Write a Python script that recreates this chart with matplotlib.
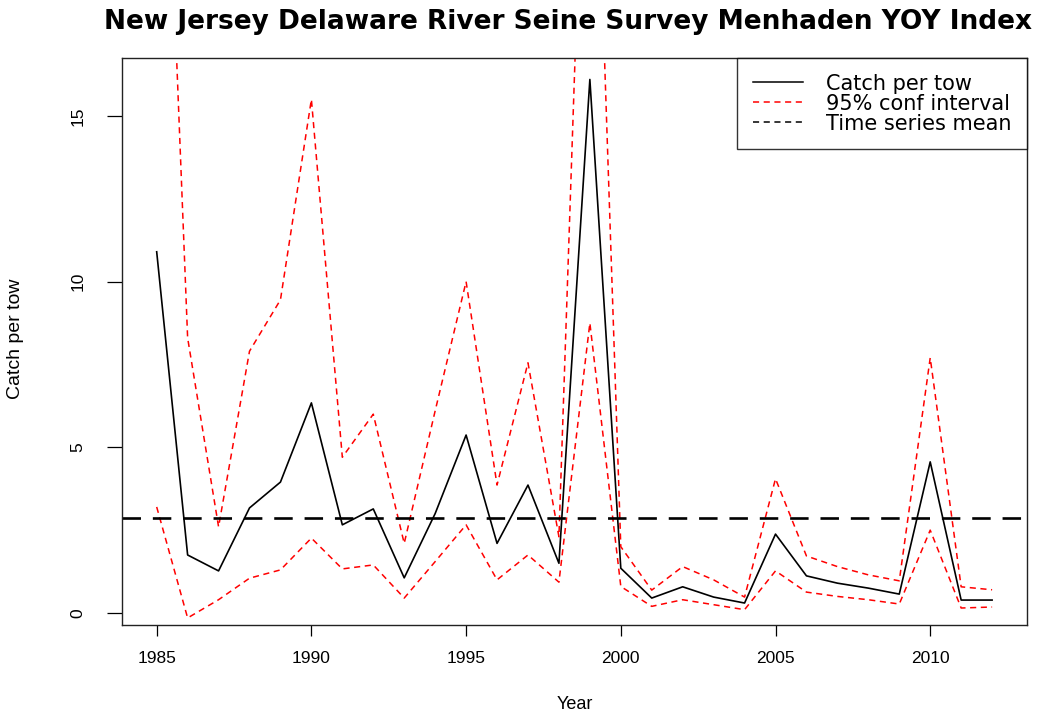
import numpy as np
import matplotlib
matplotlib.use("Agg")
from matplotlib import pyplot as plt
from matplotlib.lines import Line2D

# NJ Delaware River seine survey, menhaden YOY index
years = list(range(1985, 2013))
catch = [10.9, 1.75, 1.27, 3.17, 3.95, 6.34, 2.66, 3.14, 1.06, 3.0,
         5.37, 2.1, 3.86, 1.5, 16.1, 1.35, 0.45, 0.79, 0.48, 0.3,
         2.38, 1.12, 0.9, 0.75, 0.57, 4.56, 0.39, 0.39]
upper = [32.0, 8.3, 2.6, 7.9, 9.45, 15.5, 4.7, 6.0, 2.1, 6.1,
         10.0, 3.86, 7.55, 2.3, 30.0, 2.0, 0.69, 1.4, 1.0, 0.48,
         4.05, 1.72, 1.4, 1.15, 0.97, 7.7, 0.79, 0.7]
lower = [3.2, -0.15, 0.4, 1.05, 1.3, 2.26, 1.33, 1.45, 0.45, 1.55,
         2.66, 1.0, 1.75, 0.93, 8.75, 0.8, 0.2, 0.4, 0.25, 0.1,
         1.27, 0.63, 0.5, 0.4, 0.27, 2.5, 0.15, 0.18]
ts_mean = 2.87

plt.rcParams['font.family'] = ['Liberation Sans Narrow', 'Liberation Sans', 'DejaVu Sans']

fig = plt.figure(figsize=(10.52, 7.15), dpi=100)
ax = fig.add_axes([0.116, 0.126, 0.86, 0.793])

dash = (0, (4, 3))
ax.plot(years, catch, color='black', lw=1.2)
ax.plot(years, upper, color='red', lw=1.1, ls=dash)
ax.plot(years, lower, color='red', lw=1.1, ls=dash)
ax.axhline(ts_mean, color='black', lw=1.9, ls=(0, (7, 4.5)))

ax.set_xlim(1983.88, 2013.12)
ax.set_ylim(-0.36, 16.75)
ax.set_xticks([1985, 1990, 1995, 2000, 2005, 2010])
ax.set_yticks([0, 5, 10, 15])
ax.tick_params(axis='x', direction='out', length=8, width=0.9, labelsize=12.5, pad=11)
ax.tick_params(axis='y', direction='out', length=10.5, width=0.9, labelsize=12.5, pad=16)
for lab in ax.get_yticklabels():
    lab.set_rotation(90)
    lab.set_va('center')
for s in ax.spines.values():
    s.set_linewidth(1.0)
    s.set_color('#222222')

ax.set_xlabel('Year', fontsize=13)
ax.xaxis.set_label_coords(0.5, -0.125)
ax.set_ylabel('Catch per tow', fontsize=14)
ax.yaxis.set_label_coords(-0.108, 0.505)
ax.set_title('New Jersey Delaware River Seine Survey Menhaden YOY Index',
             fontsize=19, fontweight='bold', pad=21, family=['DejaVu Sans'], x=0.493)

handles = [Line2D([], [], color='black', lw=1.1),
           Line2D([], [], color='red', lw=1.1, ls=dash),
           Line2D([], [], color='black', lw=1.1, ls=dash)]
labels = ['Catch per tow', '95% conf interval', 'Time series mean']
leg = ax.legend(handles, labels, loc='upper right', bbox_to_anchor=(1.0, 1.0),
                borderaxespad=0.0, fancybox=False, edgecolor='black',
                prop={'family': 'DejaVu Sans', 'size': 15}, handlelength=2.4,
                handletextpad=1.1, borderpad=0.75, labelspacing=0.0)
leg.get_frame().set_linewidth(1.0)

fig.savefig('out.png', dpi=100)
